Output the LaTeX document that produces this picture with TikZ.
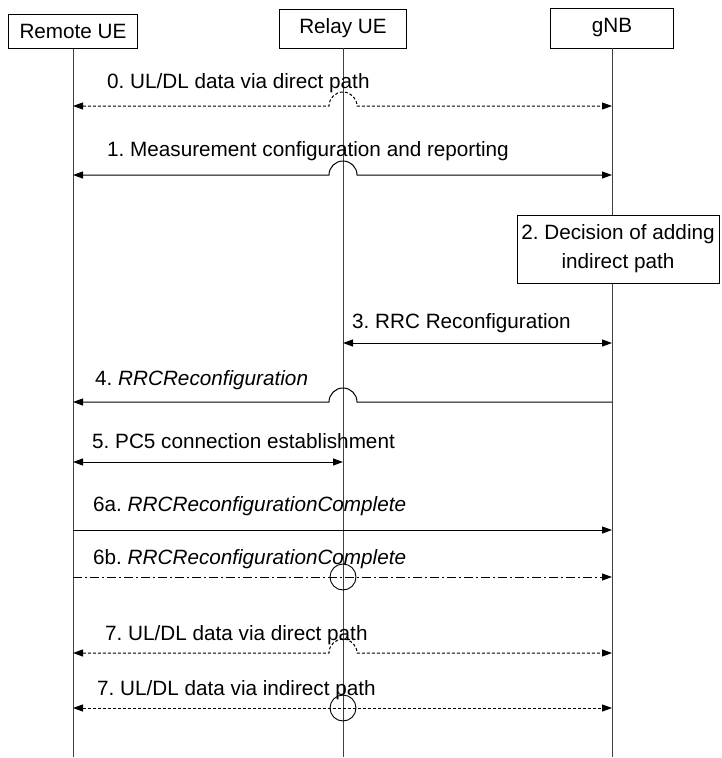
\documentclass[tikz,border=0pt]{standalone}
\usepackage{fontspec}
\setmainfont{Liberation Sans}
\usetikzlibrary{arrows.meta,positioning,calc}
\frenchspacing

\begin{document}
\begin{tikzpicture}[
  x=1pt, y=1pt,
  font=\fontsize{20.7}{24}\selectfont,
  entity/.style={
    rectangle, draw, line width=0.9pt, fill=white,
    minimum height=34pt, inner sep=0pt
  },
  decision/.style={
    rectangle, draw, line width=0.9pt, fill=white, align=center,
    font=\fontsize{20.7}{29}\selectfont,
    minimum width=202pt, minimum height=68pt, inner sep=0pt
  },
  life/.style={line width=0.9pt, black!75},
  msg/.style={line width=1pt, -{Triangle[length=10pt,width=7pt]}},
  bimsg/.style={line width=1pt, {Triangle[length=10pt,width=7pt]}-{Triangle[length=10pt,width=7pt]}},
  direct/.style={dash pattern=on 3pt off 2pt},
  dashdot/.style={dash pattern=on 9pt off 3pt on 2pt off 3pt},
  lbl/.style={anchor=base west, inner sep=0pt},
  xing/.style={circle, draw, line width=0.9pt, minimum size=26pt, inner sep=0pt}
]
\useasboundingbox (0,0) rectangle (721,-758);

% Entities
\node[entity, minimum width=129pt] (remote) at (73,-31.5) {Remote UE};
\node[entity, minimum width=127pt, minimum height=39pt] (relay) at (343,-28.5) {Relay UE};
\node[entity, minimum width=123pt, minimum height=40pt] (gnb) at (612,-28) {gNB};

% Lifelines
\foreach \e in {remote,relay,gnb}
  \draw[life] (\e.south) -- (\e.south |- 0,-757);

% Message rows on each lifeline
\foreach \m/\y in {0/106,1/175,3/343,4/402,5/462,6a/530,6b/577,7a/653,7b/708} {
  \coordinate (r\m) at (73,-\y);
  \coordinate (l\m) at (343,-\y);
  \coordinate (g\m) at (612,-\y);
}

% 0. data via direct path
\draw[bimsg, direct] (r0) -- ($(l0)+(-14,0)$) arc[start angle=180, end angle=0, radius=14] -- (g0);
\node[lbl] (t0) at (107,-88) {0. UL/DL data via direct path};

% 1. measurement
\draw[bimsg] (r1) -- ($(l1)+(-14,0)$) arc[start angle=180, end angle=0, radius=14] -- (g1);
\node[lbl] (t1) at (107,-156) {1. Measurement configuration and reporting};

% 2. decision
\node[decision] (dec) at (618,-249) {2. Decision of adding\\indirect path};

% 3. RRC to relay
\draw[bimsg] (l3) -- (g3);
\node[lbl] (t3) at (352,-328) {3. RRC Reconfiguration};

% 4. RRC to remote
\draw[msg] (g4) -- ($(l4)+(14,0)$) arc[start angle=0, end angle=180, radius=14] -- (r4);
\node[lbl] (t4) at (95,-385) {4. \textit{RRCReconfiguration}};

% 5. PC5
\draw[bimsg] (r5) -- (l5);
\node[lbl] (t5) at (92,-448) {5. PC5 connection establishment};

% 6a / 6b. complete
\draw[msg] (r6a) -- (g6a);
\node[lbl] (t6a) at (93,-511) {6a. \textit{RRCReconfigurationComplete}};
\draw[msg, dashdot] (r6b) -- (g6b);
\node[xing] (x6b) at (l6b) {};
\node[lbl] (t6b) at (93,-564) {6b. \textit{RRCReconfigurationComplete}};

% 7. data via both paths
\draw[bimsg, direct] (r7a) -- ($(l7a)+(-14,0)$) arc[start angle=180, end angle=0, radius=14] -- (g7a);
\node[lbl] (t7a) at (105,-640) {7. UL/DL data via direct path};
\draw[bimsg, direct] (r7b) -- (g7b);
\node[xing] (x7b) at (l7b) {};
\node[lbl] (t7b) at (97,-695) {7. UL/DL data via indirect path};
\end{tikzpicture}
\end{document}
